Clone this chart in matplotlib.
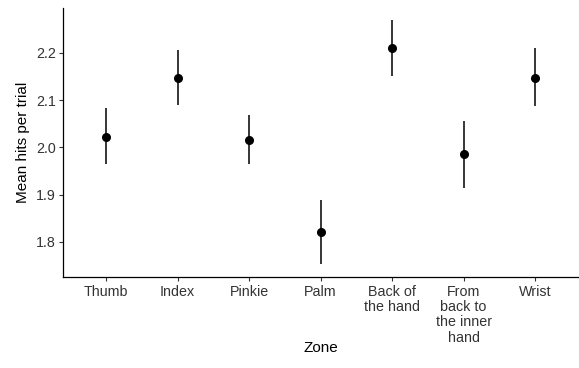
import matplotlib
matplotlib.use("Agg")
import matplotlib.pyplot as plt

zones = ["Thumb", "Index", "Pinkie", "Palm", "Back of\nthe hand",
         "From\nback to\nthe inner\nhand", "Wrist"]
means = [2.023, 2.148, 2.016, 1.821, 2.210, 1.985, 2.148]
lower = [1.964, 2.089, 1.964, 1.752, 2.151, 1.913, 2.087]
upper = [2.083, 2.206, 2.068, 1.888, 2.269, 2.056, 2.210]

plt.rcParams['font.family'] = ['Liberation Sans', 'DejaVu Sans']

fig = plt.figure(figsize=(5.79, 3.68), dpi=100)
ax = fig.add_axes([0.1093, 0.2473, 0.889, 0.7307])

x = list(range(1, len(zones) + 1))
ax.vlines(x, lower, upper, color="black", linewidth=1.1)
ax.plot(x, means, "o", color="black", markersize=5.5)

ax.set_xlim(0.4, 7.6)
ax.set_ylim(1.7255, 2.295)
ax.set_xticks(x)
ax.set_xticklabels(zones, fontsize=10.3, color="#333333", va="top",
                   linespacing=1.12)
ax.set_yticks([1.8, 1.9, 2.0, 2.1, 2.2])
ax.set_yticklabels(["1.8", "1.9", "2.0", "2.1", "2.2"], fontsize=10.3, color="#333333")
ax.tick_params(length=3, width=0.8, color="#333333", pad=2.5)

for s in ["top", "right"]:
    ax.spines[s].set_visible(False)
for s in ["left", "bottom"]:
    ax.spines[s].set_linewidth(0.9)

ax.set_xlabel("Zone", fontsize=11)
ax.set_ylabel("Mean hits per trial", fontsize=11)
ax.xaxis.label.set_va("center")
ax.xaxis.set_label_coords(0.5, -0.264)

fig.savefig("out.png", dpi=100)
